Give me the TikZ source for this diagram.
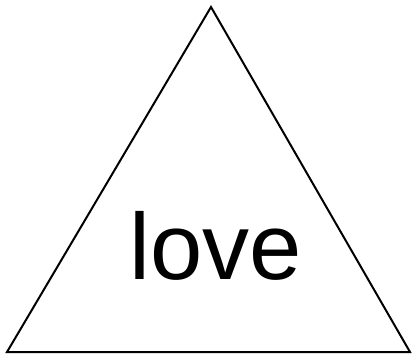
\documentclass[tikz,border=0pt]{standalone}
\usepackage{fontspec}
\setmainfont{Liberation Sans}
\usetikzlibrary{positioning}

\begin{document}
\begin{tikzpicture}[
  x=1pt,y=-1pt,
  edge/.style={draw=black,line width=2pt,line join=miter},
  word/.style={font=\fontsize{94}{94}\selectfont,inner sep=0pt,anchor=base}
]
  \useasboundingbox (0,0) rectangle (415,354);
  \coordinate (apex) at (211,7);
  \coordinate (left) at (7,352);
  \coordinate (right) at (410,352);
  \draw[edge] (apex) -- (left) -- (right) -- cycle;
  \node[word] (love) at (216,279) {love};
\end{tikzpicture}
\end{document}
